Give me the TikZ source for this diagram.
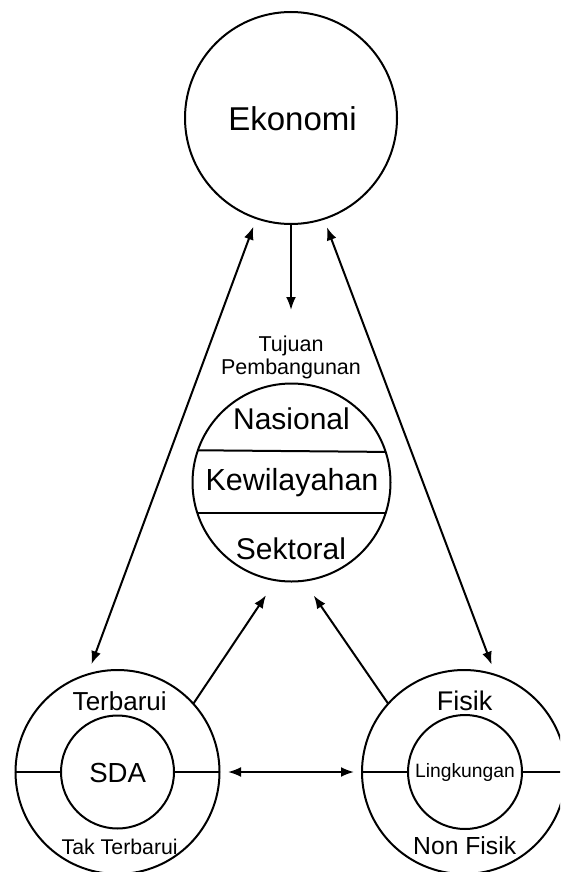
\documentclass[tikz,border=0pt]{standalone}
\usepackage{fontspec}
\setmainfont{Liberation Sans}
\usetikzlibrary{arrows.meta}
\newcommand{\fsz}[1]{\fontsize{#1}{#1}\selectfont}
\begin{document}
\begin{tikzpicture}[x=1pt, y=-1pt, line width=2pt,
		>={Latex[length=13pt,width=10pt]},
		ring/.style={circle, draw, inner sep=0pt, outer sep=0pt},
		lbl/.style={anchor=base, inner sep=0pt}]
	\clip (0,0) rectangle (560,872);
	% circles
	\node[ring, minimum size=212pt] (ekonomi) at (291,118) {};
	\node[ring, minimum size=198pt] (tujuan) at (291.5,482.5) {};
	\node[ring, minimum size=204pt] (sda) at (117.5,772) {};
	\node[ring, minimum size=113pt] (sdain) at (117.5,772) {};
	\node[ring, minimum size=204pt] (lingk) at (464,772) {};
	\node[ring, minimum size=114pt] (lingkin) at (465,772) {};
	% dividers
	\foreach \a in {18.5,-18}
		{
			\draw (tujuan.\a) -- (tujuan.{180-\a});
		}
	\draw (sda.west) -- (sdain.west);
	\draw (sdain.east) -- (sda.east);
	\draw (lingk.west) -- (lingkin.west);
	\draw (lingkin.east) -- (lingk.east);
	% texts
	\node[lbl, font=\fsz{33}] (ekotxt) at (292.5,130.7) {Ekonomi};
	\node[lbl, font=\fsz{21.5}] (tujuan1) at (291,351.7) {Tujuan};
	\node[lbl, font=\fsz{21.5}] (tujuan2) at (291,374) {Pembangunan};
	\node[lbl, font=\fsz{30}] (nasional) at (291.5,429.3) {Nasional};
	\node[lbl, font=\fsz{30.5}] (wilayah) at (292,490.7) {Kewilayahan};
	\node[lbl, font=\fsz{30}] (sektoral) at (291,559) {Sektoral};
	\node[lbl, font=\fsz{26}] (terbarui) at (119.7,710.7) {Terbarui};
	\node[lbl, font=\fsz{27.6}] (sdatxt) at (117.7,782.7) {SDA};
	\node[lbl, font=\fsz{21.3}] (takbarui) at (119.7,854) {Tak Terbarui};
	\node[lbl, font=\fsz{27}] (fisik) at (464.7,710.7) {Fisik};
	\node[lbl, font=\fsz{19.3}] (lingktxt) at (465,777.7) {Lingkungan};
	\node[lbl, font=\fsz{24.7}] (nonfisik) at (464.7,854) {Non Fisik};
	% connectors
	\coordinate (goal) at (291,310);
	\draw[->] (ekonomi.south) -- (goal);
	\draw[<->, shorten <=9pt, shorten >=11pt] (ekonomi.251) -- (sda.107);
	\draw[<->, shorten <=9pt, shorten >=11pt] (ekonomi.288.3) -- (lingk.72.5);
	\draw[->, shorten >=18pt] (sda.42.8) -- (tujuan.261.3);
	\draw[->, shorten >=18pt] (lingk.138.1) -- (tujuan.277.7);
	\draw[<->, shorten <=8.5pt, shorten >=8pt] (sda.east) -- (lingk.west);
\end{tikzpicture}
\end{document}
